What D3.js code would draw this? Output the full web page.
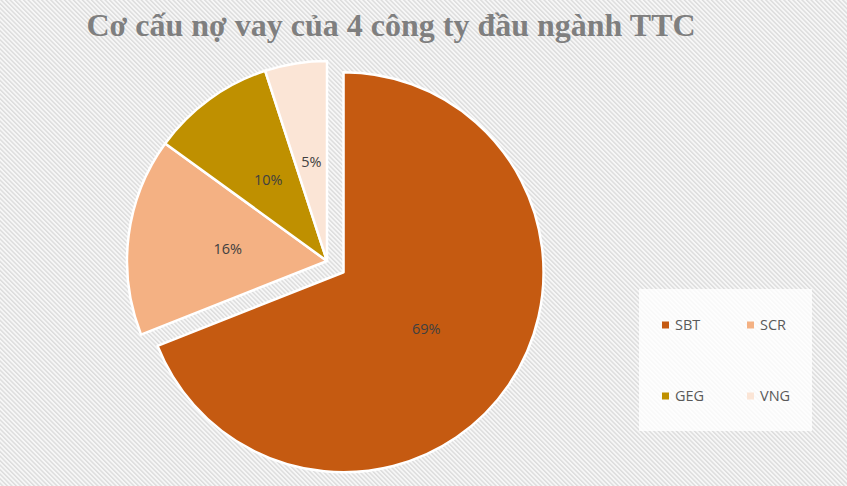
<!DOCTYPE html>
<html><head><meta charset="utf-8">
<script src="https://cdn.jsdelivr.net/npm/d3@7"></script>
<style>body{margin:0;background:#fff}svg{display:block}</style>
</head><body>
<svg id="c" width="847" height="486"></svg>
<script>
const title = "Cơ cấu nợ vay của 4 công ty đầu ngành TTC";
const categories = ["SBT", "SCR", "GEG", "VNG"];
const values = [69, 16, 10, 5];
const colors = ["#C55A11", "#F4B183", "#BF9000", "#FBE5D6"];

const svg = d3.select("#c");
const W = 847, H = 486;
const defs = svg.append("defs");
const P = 3.2;
const pat = defs.append("pattern").attr("id","hatch").attr("patternUnits","userSpaceOnUse")
  .attr("width",P).attr("height",P).attr("patternTransform","rotate(-45)");
pat.append("rect").attr("width",P).attr("height",P).attr("fill","#f7f7f7");
pat.append("rect").attr("width",1.4).attr("height",P).attr("fill","#dcdcdc");
svg.append("rect").attr("width",W).attr("height",H).attr("fill","url(#hatch)");

svg.append("text").attr("x",391).attr("y",36).attr("text-anchor","middle")
  .attr("font-family","'Liberation Serif','Times New Roman',serif").attr("font-weight","bold")
  .attr("font-size",32).attr("fill","#7f7f7f").text(title);

const cx = 327, cy = 261, r = 200, explode = 20;
const pie = d3.pie().sort(null).value(d => d)(values);
const arc = d3.arc().innerRadius(0).outerRadius(r);
const lab = d3.arc().innerRadius(r*0.5).outerRadius(r*0.5);
const g = svg.append("g").attr("transform",`translate(${cx},${cy})`);
const slices = g.selectAll("g.s").data(pie).join("g").attr("class","s")
  .attr("transform", (d,i) => {
    if (i !== 0) return null;
    const a = (d.startAngle + d.endAngle)/2;
    return `translate(${Math.sin(a)*explode},${-Math.cos(a)*explode})`;
  });
slices.append("path").attr("d", arc).attr("fill", (d,i) => colors[i])
  .attr("stroke","#fff").attr("stroke-width",2.5).attr("stroke-linejoin","round");
slices.append("text").attr("transform", d => `translate(${lab.centroid(d)})`)
  .attr("text-anchor","middle").attr("dy","0.36em")
  .attr("font-family","'Open Sans','Liberation Sans',sans-serif").attr("font-size",14.5)
  .attr("fill","#404040").text(d => d.value + "%");

// legend
const lg = svg.append("g");
lg.append("rect").attr("x",639).attr("y",289).attr("width",173).attr("height",142)
  .attr("fill","#ffffff").attr("fill-opacity",0.8);
const lx = d3.scaleOrdinal().domain([0,1]).range([662, 747]);
const ly = d3.scaleOrdinal().domain([0,1]).range([325, 396]);
const items = lg.selectAll("g.li").data(categories).join("g").attr("class","li")
  .attr("transform",(d,i) => `translate(${lx(i%2)},${ly(Math.floor(i/2))})`);
items.append("rect").attr("x",0).attr("y",-3.5).attr("width",7).attr("height",7)
  .attr("fill",(d,i) => colors[i]);
items.append("text").attr("x",13).attr("dy","0.36em")
  .attr("font-family","'Open Sans','Liberation Sans',sans-serif").attr("font-size",14.5)
  .attr("fill","#595959").text(d => d);
</script>
</body></html>
